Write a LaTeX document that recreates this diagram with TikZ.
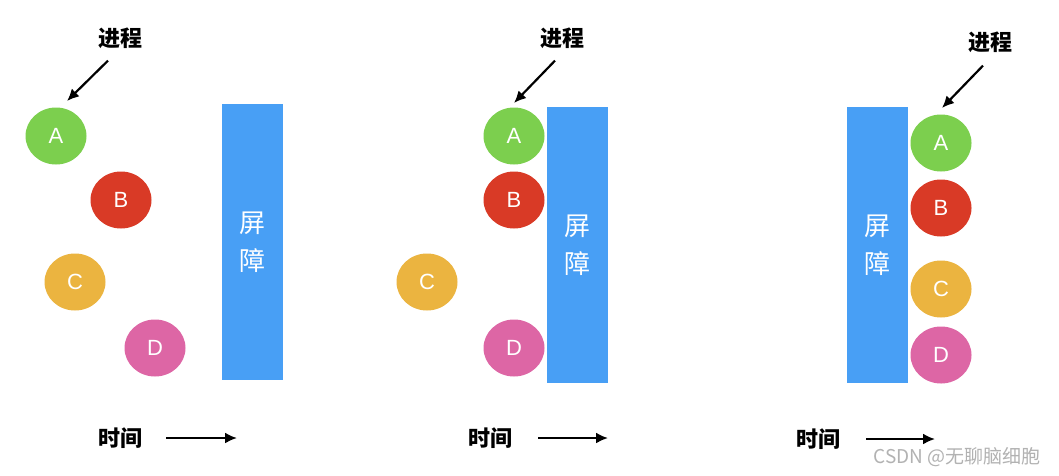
\documentclass[tikz,border=0pt]{standalone}
\usepackage{fontspec}
\setmainfont{Liberation Sans}
\newfontfamily\cjk{Noto Sans CJK SC}
\usetikzlibrary{arrows.meta,shapes.geometric}
\definecolor{procgreen}{HTML}{7CCF4E}
\definecolor{procred}{HTML}{D93A26}
\definecolor{procyellow}{HTML}{EBB440}
\definecolor{procpink}{HTML}{DD66A5}
\definecolor{barblue}{HTML}{489FF5}

\begin{document}
\begin{tikzpicture}[x=1pt,y=-1pt,
  proc/.style={ellipse, minimum width=61pt, minimum height=57pt, inner sep=0pt, text=white, font=\fontsize{22}{22}\selectfont},
  barrier/.style={rectangle, fill=barblue, minimum width=61pt, minimum height=276pt, inner sep=0pt, text=white, align=center, font=\cjk\fontsize{26}{38}\selectfont},
  tag/.style={font=\cjk\bfseries\fontsize{22}{22}\selectfont, inner sep=0pt},
  arr/.style={-{Latex[length=12pt,width=11pt]}, line width=2.2pt}
]
\fill[white] (0,0) rectangle (1059,475);
\useasboundingbox (0,0) rectangle (1059,475);
% --- panel 1: processes still running ---
\node[barrier] (bar1) at (252,242) {屏\\障};
\node[proc, fill=procgreen]  (A1) at (56,136)  {A};
\node[proc, fill=procred]    (B1) at (121,200) {B};
\node[proc, fill=procyellow] (C1) at (75,282)  {C};
\node[proc, fill=procpink]   (D1) at (155,348) {D};
\node[tag] (proc1) at (120,38) {进程};
\coordinate (tip1) at (67,101);
\draw[arr] ([xshift=-12pt,yshift=-12pt]proc1.south) -- (tip1);
\node[tag] (time1) at (120,438) {时间};
\coordinate (end1) at (237,438);
\draw[arr] ([xshift=24pt]time1.east) -- (end1);
% --- panel 2: some processes wait at the barrier ---
\node[barrier] (bar2) at (577.5,245) {屏\\障};
\node[proc, fill=procgreen]  (A2) at (514,136) {A};
\node[proc, fill=procred]    (B2) at (514,200) {B};
\node[proc, fill=procyellow] (C2) at (427,282) {C};
\node[proc, fill=procpink]   (D2) at (514,348) {D};
\node[tag] (proc2) at (562,38) {进程};
\coordinate (tip2) at (514,103);
\draw[arr] ([xshift=-7pt,yshift=-12pt]proc2.south) -- (tip2);
\node[tag] (time2) at (490,438) {时间};
\coordinate (end2) at (608,438);
\draw[arr] ([xshift=26pt]time2.east) -- (end2);
% --- panel 3: all processes past the barrier ---
\node[barrier] (bar3) at (877.5,245) {屏\\障};
\node[proc, fill=procgreen]  (A3) at (941,143) {A};
\node[proc, fill=procred]    (B3) at (941,208) {B};
\node[proc, fill=procyellow] (C3) at (941,289) {C};
\node[proc, fill=procpink]   (D3) at (941,355) {D};
\node[tag] (proc3) at (990,42) {进程};
\coordinate (tip3) at (942,108);
\draw[arr] ([xshift=-7pt,yshift=-13pt]proc3.south) -- (tip3);
\node[tag] (time3) at (818,439) {时间};
\coordinate (end3) at (935,439);
\draw[arr] ([xshift=26pt]time3.east) -- (end3);
% --- watermark ---
\node[font=\cjk\fontsize{19}{19}\selectfont, text=gray!60, inner sep=0pt] (wm) at (957,457) {CSDN @无聊脑细胞};
\end{tikzpicture}
\end{document}
